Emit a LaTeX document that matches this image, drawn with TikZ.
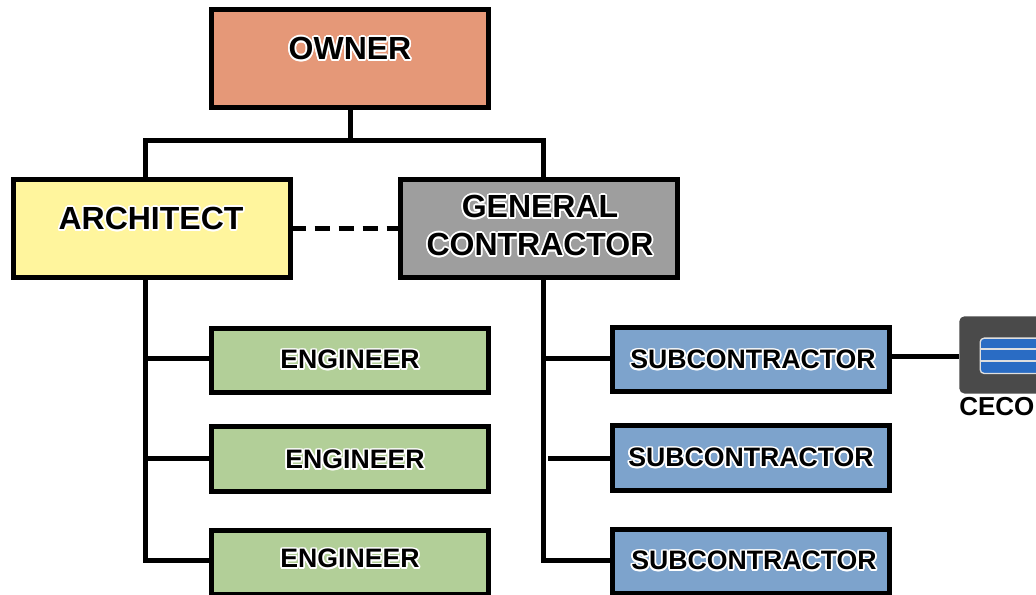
\documentclass[tikz,border=0pt]{standalone}
\usepackage{fontspec}
\setmainfont{Liberation Sans}
\usepackage{contour}
\contournumber{12}
\contourlength{1.3pt}
\definecolor{OwnerClr}{HTML}{E59878}
\definecolor{ArchClr}{HTML}{FFF59D}
\definecolor{GenClr}{HTML}{9E9E9E}
\definecolor{EngClr}{HTML}{B2CF98}
\definecolor{SubClr}{HTML}{7DA3CC}
\definecolor{LogoClr}{HTML}{4A4A4A}
\definecolor{StripeClr}{HTML}{2A6CC4}
\tikzset{
  bigbox/.style={draw=black,line width=3.75pt,minimum width=207.75pt,minimum height=73.5pt},
  smallbox/.style={draw=black,line width=3.75pt,minimum width=207.75pt,minimum height=48pt},
  biglabel/.style={inner sep=0pt,align=center,font=\fontsize{24}{28.5}\selectfont\bfseries},
  smalllabel/.style={inner sep=0pt,font=\fontsize{20}{23}\selectfont\bfseries},
  link/.style={line width=3.75pt,line cap=butt}
}
\newcommand{\halo}[1]{\contour{white}{#1}}

\begin{document}
\begin{tikzpicture}[x=.75pt,y=-.75pt]
\clip (0,0) rectangle (1036,595);

\node[bigbox,fill=OwnerClr] (owner) at (350,59) {};
\node[bigbox,fill=ArchClr] (arch) at (151.5,228.5) {};
\node[bigbox,fill=GenClr] (gen) at (539,228.5) {};

\node[smallbox,fill=EngClr] (engA) at (350,360.5) {};
\node[smallbox,fill=EngClr] (engB) at (350,459) {};
\node[smallbox,fill=EngClr] (engC) at (350,562) {};
\node[smallbox,fill=SubClr] (subA) at (750.5,359.5) {};
\node[smallbox,fill=SubClr] (subB) at (750.5,458) {};
\node[smallbox,fill=SubClr] (subC) at (750.5,561.5) {};

\node[biglabel] (ownerText) at (350,49.5) {\halo{OWNER}};
\node[biglabel] (archText) at (151,219.5) {\halo{ARCHITECT}};
\node[biglabel] (genText) at (540,226.5) {\halo{GENERAL}\\\halo{CONTRACTOR}};
\node[smalllabel] (engAText) at (350,360.5) {\halo{ENGINEER}};
\node[smalllabel] (engBText) at (355,460.5) {\halo{ENGINEER}};
\node[smalllabel] (engCText) at (350,559.5) {\halo{ENGINEER}};
\node[smalllabel] (subAText) at (753,360.5) {\halo{SUBCONTRACTOR}};
\node[smalllabel] (subBText) at (751,458.5) {\halo{SUBCONTRACTOR}};
\node[smalllabel] (subCText) at (754,561.5) {\halo{SUBCONTRACTOR}};

\coordinate (busL) at (145,141);
\coordinate (busM) at (350,141);
\coordinate (busR) at (543,141);
\coordinate (archTop) at (145,178);
\coordinate (genTop) at (543,178);
\coordinate (archFoot) at (145,279);
\coordinate (genFoot) at (543,279);
\coordinate (archEnd) at (145,560);
\coordinate (genEnd) at (543,560);
\coordinate (archA) at (145,359);
\coordinate (genA) at (543,359);
\coordinate (archB) at (147.5,458);
\coordinate (genB) at (548,458);
\coordinate (logoIn) at (959,357);
\coordinate (subOut) at (891,357);

\draw[link] (owner.south) -- (busM);
\draw[link] (archTop) -- (busL) -- (busR) -- (genTop);
\draw[link,dash pattern=on 11.25pt off 6.75pt,dash phase=1.5pt] (arch.east) -- (gen.west);

\draw[link] (archFoot) -- (archEnd) -- (archEnd -| engC.west);
\draw[link] (archA) -- (archA -| engA.west);
\draw[link] (archB) -- (archB -| engB.west);

\draw[link] (genFoot) -- (genEnd) -- (genEnd -| subC.west);
\draw[link] (genA) -- (genA -| subA.west);
\draw[link] (genB) -- (genB -| subB.west);

% logo at the right edge
\node[fill=LogoClr,rounded corners=4pt,inner sep=0pt,minimum width=90pt,minimum height=58pt,anchor=north west] (logo) at (959,316) {};
\node[fill=StripeClr,draw=white!75!gray,line width=1pt,rounded corners=3pt,inner sep=0pt,minimum width=70pt,minimum height=26.5pt,anchor=north west] (stripes) at (979.5,337.5) {};
\draw[white!75!gray,line width=1pt] (stripes.west |- 0,349) -- (stripes.east |- 0,349);
\draw[white!75!gray,line width=1pt] (stripes.west |- 0,361) -- (stripes.east |- 0,361);
\node[inner sep=0pt,anchor=west,font=\fontsize{19.5}{23}\selectfont\bfseries] (cecoText) at (959,407) {CECO};
\draw[link] (subOut) -- (logoIn);
\end{tikzpicture}
\end{document}
